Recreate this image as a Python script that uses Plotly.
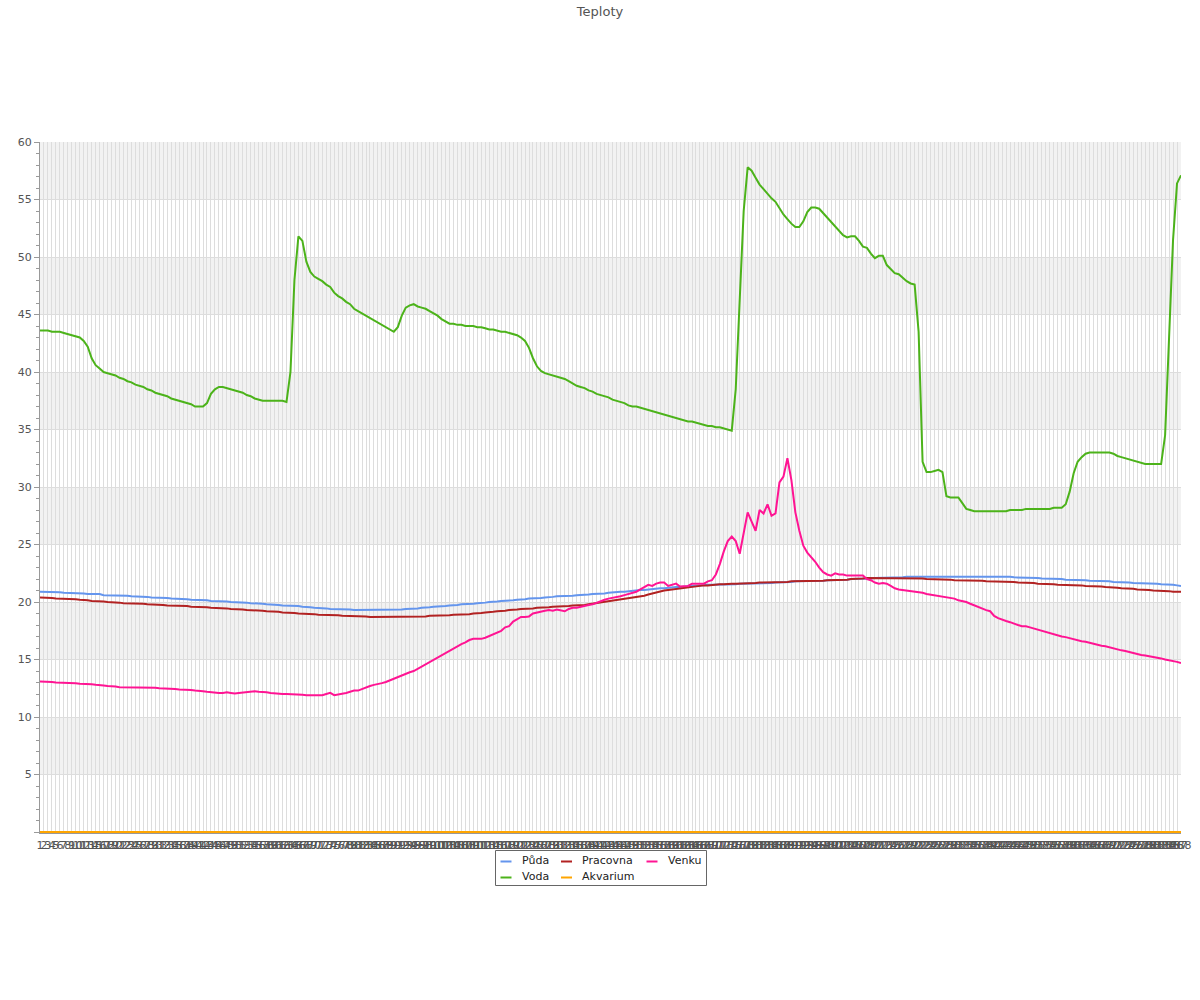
import plotly.graph_objects as go

categories = [str(i) for i in range(1, 289)]

puda = [
20.9,20.9,20.9,20.9,20.85,20.85,20.8,20.8,20.8,20.8,
20.75,20.75,20.7,20.7,20.7,20.7,20.6,20.6,20.6,20.6,
20.6,20.55,20.55,20.5,20.5,20.5,20.45,20.45,20.4,20.4,
20.4,20.35,20.35,20.3,20.3,20.3,20.25,20.25,20.2,20.2,
20.2,20.15,20.15,20.1,20.1,20.1,20.05,20.05,20.0,20.0,
20.0,19.95,19.95,19.9,19.9,19.85,19.85,19.8,19.8,19.75,
19.75,19.7,19.7,19.7,19.65,19.65,19.6,19.6,19.55,19.5,
19.5,19.45,19.45,19.4,19.4,19.4,19.35,19.35,19.35,19.3,
19.3,19.3,19.3,19.3,19.3,19.3,19.3,19.3,19.3,19.3,
19.35,19.35,19.4,19.4,19.4,19.45,19.5,19.5,19.55,19.6,
19.6,19.65,19.65,19.7,19.7,19.75,19.8,19.8,19.85,19.85,
19.9,19.9,19.95,20.0,20.0,20.05,20.1,20.1,20.15,20.15,
20.2,20.2,20.25,20.3,20.3,20.35,20.35,20.4,20.4,20.45,
20.5,20.5,20.5,20.55,20.55,20.6,20.6,20.65,20.65,20.7,
20.7,20.75,20.75,20.8,20.85,20.85,20.9,20.9,20.95,21.0,
21.0,21.05,21.05,21.1,21.1,21.15,21.2,21.2,21.25,21.25,
21.3,21.3,21.35,21.35,21.4,21.4,21.45,21.45,21.5,21.5,
21.5,21.5,21.5,21.55,21.55,21.55,21.6,21.6,21.6,21.6,
21.6,21.6,21.65,21.65,21.65,21.7,21.7,21.7,21.75,21.75,
21.8,21.8,21.8,21.8,21.85,21.85,21.85,21.85,21.9,21.9,
21.9,21.9,21.95,21.95,22.0,22.0,22.0,22.05,22.05,22.05,
22.1,22.1,22.1,22.1,22.15,22.15,22.15,22.15,22.2,22.2,
22.2,22.2,22.2,22.2,22.2,22.2,22.2,22.2,22.2,22.2,
22.2,22.2,22.2,22.2,22.2,22.2,22.2,22.2,22.2,22.2,
22.2,22.25,22.2,22.2,22.2,22.15,22.15,22.15,22.1,22.1,
22.1,22.1,22.05,22.05,22.0,22.0,22.0,22.0,21.95,21.95,
21.95,21.9,21.9,21.9,21.85,21.85,21.8,21.8,21.8,21.8,
21.75,21.75,21.7,21.7,21.7,21.65,21.65,21.65,21.6,21.6,
21.6,21.6,21.55,21.55,21.5,21.5,21.45,21.4,
]

voda = [
43.6,43.6,43.6,43.5,43.5,43.5,43.4,43.3,43.2,43.1,
43.0,42.7,42.2,41.2,40.6,40.3,40.0,39.9,39.8,39.7,
39.5,39.4,39.2,39.1,38.9,38.8,38.7,38.5,38.4,38.2,
38.1,38.0,37.9,37.7,37.6,37.5,37.4,37.3,37.2,37.0,
37.0,37.0,37.3,38.1,38.5,38.7,38.7,38.6,38.5,38.4,
38.3,38.2,38.0,37.9,37.7,37.6,37.5,37.5,37.5,37.5,
37.5,37.5,37.4,40.0,48.0,51.8,51.4,49.6,48.7,48.3,
48.1,47.9,47.6,47.4,46.9,46.6,46.4,46.1,45.9,45.5,
45.3,45.1,44.9,44.7,44.5,44.3,44.1,43.9,43.7,43.5,
43.9,44.9,45.6,45.8,45.9,45.7,45.6,45.5,45.3,45.1,
44.9,44.6,44.4,44.2,44.2,44.1,44.1,44.0,44.0,44.0,
43.9,43.9,43.8,43.7,43.7,43.6,43.5,43.5,43.4,43.3,
43.2,43.0,42.7,42.1,41.2,40.5,40.1,39.9,39.8,39.7,
39.6,39.5,39.4,39.2,39.0,38.8,38.7,38.6,38.4,38.3,
38.1,38.0,37.9,37.8,37.6,37.5,37.4,37.3,37.1,37.0,
37.0,36.9,36.8,36.7,36.6,36.5,36.4,36.3,36.2,36.1,
36.0,35.9,35.8,35.7,35.7,35.6,35.5,35.4,35.3,35.3,
35.2,35.2,35.1,35.0,34.9,38.5,47.0,54.0,57.8,57.5,
56.9,56.3,55.9,55.5,55.1,54.8,54.2,53.7,53.3,52.9,
52.6,52.6,53.1,53.9,54.3,54.3,54.2,53.8,53.4,53.0,
52.6,52.2,51.9,51.7,51.8,51.8,51.4,50.9,50.8,50.3,
49.9,50.1,50.1,49.3,48.9,48.6,48.5,48.2,47.9,47.7,
47.6,43.5,32.2,31.3,31.3,31.4,31.5,31.3,29.2,29.1,
29.1,29.1,28.6,28.1,28.0,27.9,27.9,27.9,27.9,27.9,
27.9,27.9,27.9,27.9,28.0,28.0,28.0,28.0,28.1,28.1,
28.1,28.1,28.1,28.1,28.1,28.2,28.2,28.2,28.5,29.6,
31.2,32.2,32.6,32.9,33.0,33.0,33.0,33.0,33.0,33.0,
32.9,32.7,32.6,32.5,32.4,32.3,32.2,32.1,32.0,32.0,
32.0,32.0,32.0,34.5,43.0,51.5,56.4,57.1,
]

pracovna = [
20.4,20.4,20.35,20.35,20.3,20.3,20.3,20.3,20.25,20.25,
20.2,20.2,20.15,20.1,20.1,20.1,20.05,20.0,20.0,19.95,
19.95,19.9,19.9,19.9,19.85,19.85,19.85,19.8,19.8,19.8,
19.75,19.75,19.7,19.7,19.7,19.7,19.65,19.65,19.6,19.6,
19.6,19.55,19.55,19.5,19.5,19.5,19.45,19.45,19.4,19.4,
19.4,19.35,19.3,19.3,19.3,19.25,19.25,19.2,19.2,19.15,
19.15,19.1,19.1,19.05,19.05,19.0,19.0,19.0,18.95,18.95,
18.9,18.9,18.9,18.85,18.85,18.85,18.8,18.8,18.8,18.8,
18.75,18.75,18.75,18.7,18.7,18.7,18.7,18.7,18.7,18.7,
18.7,18.7,18.7,18.7,18.7,18.75,18.75,18.75,18.8,18.8,
18.8,18.8,18.85,18.85,18.9,18.9,18.9,18.95,18.95,19.0,
19.0,19.05,19.1,19.1,19.15,19.2,19.2,19.25,19.3,19.3,
19.35,19.4,19.4,19.45,19.45,19.5,19.5,19.55,19.55,19.6,
19.6,19.6,19.65,19.65,19.7,19.7,19.75,19.75,19.8,19.85,
19.9,19.95,20.0,20.05,20.1,20.15,20.2,20.25,20.3,20.35,
20.4,20.45,20.55,20.65,20.75,20.85,20.95,21.0,21.05,21.1,
21.15,21.2,21.25,21.3,21.35,21.4,21.4,21.45,21.45,21.5,
21.5,21.55,21.55,21.6,21.6,21.6,21.6,21.65,21.65,21.65,
21.65,21.7,21.7,21.7,21.7,21.75,21.75,21.75,21.75,21.8,
21.8,21.8,21.8,21.8,21.85,21.85,21.85,21.85,21.9,21.9,
21.9,21.9,21.95,21.95,22.0,22.0,22.05,22.05,22.1,22.1,
22.1,22.1,22.1,22.1,22.1,22.1,22.1,22.1,22.1,22.1,
22.1,22.05,22.05,22.0,22.0,22.0,22.0,21.95,21.95,21.95,
21.9,21.9,21.9,21.9,21.85,21.85,21.85,21.85,21.8,21.8,
21.8,21.8,21.8,21.75,21.75,21.75,21.7,21.7,21.65,21.65,
21.65,21.6,21.6,21.6,21.55,21.55,21.5,21.5,21.5,21.5,
21.5,21.45,21.45,21.4,21.4,21.4,21.35,21.35,21.3,21.3,
21.25,21.25,21.2,21.2,21.15,21.15,21.1,21.1,21.05,21.05,
21.0,21.0,21.0,20.95,20.95,20.9,20.9,20.9,
]

akvarium = [
0,0,0,0,0,0,0,0,0,0,0,0,0,0,0,0,0,0,0,0,0,0,0,0,
0,0,0,0,0,0,0,0,0,0,0,0,0,0,0,0,0,0,0,0,0,0,0,0,
0,0,0,0,0,0,0,0,0,0,0,0,0,0,0,0,0,0,0,0,0,0,0,0,
0,0,0,0,0,0,0,0,0,0,0,0,0,0,0,0,0,0,0,0,0,0,0,0,
0,0,0,0,0,0,0,0,0,0,0,0,0,0,0,0,0,0,0,0,0,0,0,0,
0,0,0,0,0,0,0,0,0,0,0,0,0,0,0,0,0,0,0,0,0,0,0,0,
0,0,0,0,0,0,0,0,0,0,0,0,0,0,0,0,0,0,0,0,0,0,0,0,
0,0,0,0,0,0,0,0,0,0,0,0,0,0,0,0,0,0,0,0,0,0,0,0,
0,0,0,0,0,0,0,0,0,0,0,0,0,0,0,0,0,0,0,0,0,0,0,0,
0,0,0,0,0,0,0,0,0,0,0,0,0,0,0,0,0,0,0,0,0,0,0,0,
0,0,0,0,0,0,0,0,0,0,0,0,0,0,0,0,0,0,0,0,0,0,0,0,
0,0,0,0,0,0,0,0,0,0,0,0,0,0,0,0,0,0,0,0,0,0,0,0,
]

venku = [
13.1,13.1,13.1,13.05,13.0,13.0,13.0,13.0,12.95,12.95,
12.9,12.9,12.85,12.85,12.8,12.8,12.75,12.7,12.7,12.65,
12.6,12.6,12.6,12.6,12.6,12.6,12.6,12.6,12.6,12.55,
12.5,12.5,12.5,12.45,12.45,12.4,12.4,12.35,12.35,12.3,
12.3,12.25,12.2,12.15,12.15,12.1,12.1,12.15,12.1,12.05,
12.1,12.15,12.2,12.2,12.25,12.2,12.2,12.15,12.1,12.05,
12.05,12.0,12.0,12.0,12.0,12.0,11.95,11.9,11.9,11.9,
11.9,11.9,12.0,12.1,11.9,11.95,12.0,12.1,12.2,12.3,
12.3,12.45,12.55,12.7,12.8,12.85,12.95,13.05,13.2,13.3,
13.45,13.6,13.75,13.9,14.0,14.2,14.4,14.6,14.8,15.0,
15.2,15.4,15.6,15.8,16.0,16.15,16.35,16.5,16.7,16.8,
16.8,16.8,16.9,17.05,17.2,17.4,17.5,17.8,17.9,18.3,
18.5,18.7,18.7,18.75,19.0,19.1,19.15,19.25,19.3,19.25,
19.35,19.3,19.2,19.4,19.5,19.5,19.6,19.7,19.75,19.8,
19.95,20.1,20.2,20.3,20.35,20.45,20.5,20.6,20.7,20.8,
20.9,21.1,21.3,21.5,21.4,21.6,21.7,21.7,21.4,21.5,
21.6,21.35,21.4,21.4,21.6,21.6,21.55,21.6,21.8,21.9,
22.4,23.3,24.4,25.3,25.7,25.3,24.2,26.0,27.8,27.0,
26.2,28.0,27.7,28.5,27.5,27.7,30.4,30.9,32.5,30.6,
27.8,26.2,24.9,24.3,23.9,23.5,23.0,22.6,22.4,22.3,
22.5,22.4,22.4,22.3,22.3,22.3,22.3,22.3,22.0,21.9,
21.7,21.6,21.65,21.6,21.4,21.2,21.1,21.05,21.0,21.0,
20.95,20.85,20.8,20.7,20.65,20.6,20.55,20.5,20.45,20.4,
20.3,20.15,20.1,20.0,19.85,19.7,19.55,19.4,19.3,19.2,
18.8,18.6,18.45,18.35,18.25,18.1,18.0,17.9,17.9,17.8,
17.7,17.55,17.45,17.35,17.25,17.15,17.05,17.0,16.95,16.85,
16.8,16.7,16.6,16.55,16.45,16.4,16.3,16.2,16.15,16.05,
16.0,15.9,15.8,15.75,15.65,15.6,15.5,15.4,15.35,15.3,
15.2,15.15,15.1,15.0,14.95,14.85,14.8,14.7,
]

series_names = ["Půda", "Voda", "Pracovna", "Akvarium", "Venku"]
series_colors = ["#6495ED", "#4CB31A", "#B22222", "#FFA500", "#FF1493"]
series_values = [puda, voda, pracovna, akvarium, venku]

y_tick_values = [0, 5, 10, 15, 20, 25, 30, 35, 40, 45, 50, 55, 60]
y_tick_labels = ["", "5", "10", "15", "20", "25", "30", "35", "40", "45", "50", "55", "60"]
band_ranges = [(5, 10), (15, 20), (25, 30), (35, 40), (45, 50), (55, 60)]

FONT = "DejaVu Sans"
W, H = 1200, 1000
L, R, T, B = 40, 19, 142, 167
PW, PH = W - L - R, H - T - B

fig = go.Figure()
for name, color, vals in zip(series_names, series_colors, series_values):
    fig.add_trace(go.Scatter(
        x=categories, y=vals, mode="lines", name=name,
        line=dict(color=color, width=2), showlegend=False,
    ))

shapes = []
for lo, hi in band_ranges:
    shapes.append(dict(type="rect", xref="paper", yref="y", x0=0, x1=1, y0=lo, y1=hi,
                       fillcolor="#F2F2F2", line=dict(width=0), layer="below"))

def px_x(px):
    return (px - L) / PW

def px_y(py):
    return (H - B - py) / PH

# legend laid out column-major like the original
shapes.append(dict(type="rect", xref="paper", yref="paper",
                   x0=px_x(495.5), x1=px_x(706.5), y0=px_y(850.5), y1=px_y(885.5),
                   line=dict(color="#666666", width=1), fillcolor="rgba(255,255,255,0)"))
legend_pos = [(500.5, 861.5), (500.5, 877.5), (561, 861.5), (561, 877.5), (646.5, 861.5)]
annotations = []
for (lx, ly), name, color in zip(legend_pos, series_names, series_colors):
    shapes.append(dict(type="line", xref="paper", yref="paper",
                       x0=px_x(lx), x1=px_x(lx + 11), y0=px_y(ly), y1=px_y(ly),
                       line=dict(color=color, width=2)))
    annotations.append(dict(xref="paper", yref="paper", x=px_x(lx + 19), y=px_y(ly - 1),
                            text=name, showarrow=False, xanchor="left", yanchor="middle",
                            font=dict(family=FONT, size=11, color="#222222")))

fig.update_layout(
    width=W, height=H,
    margin=dict(l=L, r=R, t=T, b=B, autoexpand=False),
    paper_bgcolor="white", plot_bgcolor="white",
    title=dict(text="Teploty", x=0.5, xanchor="center", y=1 - 11 / H, yanchor="middle",
               font=dict(family=FONT, size=13, color="#545454")),
    font=dict(family=FONT, size=11, color="#545454"),
    shapes=shapes, annotations=annotations,
    showlegend=False,
)
fig.update_xaxes(
    type="category", range=[0, len(categories) - 1],
    tickmode="linear", dtick=1, tickangle=0,
    showgrid=True, gridcolor="#DDDDDD", gridwidth=1,
    showline=True, linecolor="#999999", linewidth=1,
    ticks="", ticklabelstandoff=2,
    tickfont=dict(family=FONT, size=11, color="#545454"),
    zeroline=False, automargin=False,
)
fig.update_yaxes(
    range=[-0.08, 60],
    tickmode="array", tickvals=y_tick_values, ticktext=y_tick_labels,
    showgrid=True, gridcolor="#DDDDDD", gridwidth=1,
    showline=True, linecolor="#999999", linewidth=1,
    ticks="outside", ticklen=5, tickcolor="#999999",
    minor=dict(tickmode="linear", tick0=0, dtick=1, ticks="outside", ticklen=3,
               tickcolor="#999999", showgrid=False),
    tickfont=dict(family=FONT, size=11, color="#545454"),
    zeroline=False, automargin=False,
)

fig.write_html(
    "out.html",
    config={"displayModeBar": False},
    post_script="document.body.style.margin='0';document.body.style.padding='0';",
)
